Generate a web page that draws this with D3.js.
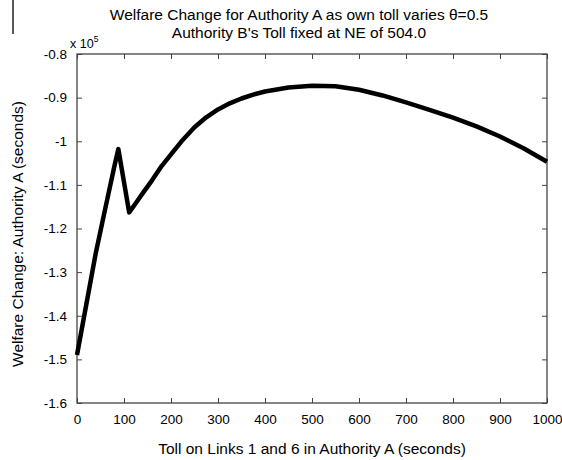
<!DOCTYPE html>
<html>
<head>
<meta charset="utf-8">
<style>
  body { margin: 0; background: #fff; }
  text { font-family: Arial, "Liberation Sans", sans-serif; fill: #000; }
</style>
</head>
<body>
<svg width="562" height="460" id="chart"></svg>
<script src="https://d3js.org/d3.v7.min.js"></script>
<script>

// toll on links 1 and 6 (seconds)
const tolls = [0, 20, 40, 60, 80, 88, 111, 125, 140, 160, 180, 200, 225, 250, 275, 300, 325, 350, 375, 400, 450, 500, 550, 600, 650, 700, 750, 800, 850, 900, 950, 1000]
// welfare change for authority A (x 10^5 seconds)
const welfare = [-1.49, -1.373, -1.256, -1.155, -1.055, -1.018, -1.163, -1.142, -1.119, -1.089, -1.057, -1.03, -0.997, -0.968, -0.945, -0.927, -0.913, -0.902, -0.893, -0.886, -0.877, -0.873, -0.874, -0.882, -0.895, -0.911, -0.928, -0.946, -0.966, -0.989, -1.016, -1.047]

const xTicks = [0, 100, 200, 300, 400, 500, 600, 700, 800, 900, 1000]
const yTicks = [-0.8, -0.9, -1, -1.1, -1.2, -1.3, -1.4, -1.5, -1.6]

const titleLines = ['Welfare Change for Authority A as own toll varies \u03b8=0.5', "Authority B's Toll fixed at NE of 504.0"]

const mLeft = 77, mRight = 547, mTop = 54, mBottom = 403
const svg = d3.select('#chart')

const x = d3.scaleLinear().domain([0, 1000]).range([mLeft, mRight])
const y = d3.scaleLinear().domain([-1.6, -0.8]).range([mBottom, mTop])

const frame = '#444'

// ticks on all four sides, pointing in
function styleAxis(g) {
  g.select('.domain').remove()
  g.selectAll('.tick line').attr('stroke', frame)
  g.selectAll('.tick text').style('font-size', '13.5px').attr('fill', '#000')
}

svg.append('g').attr('transform', `translate(0,${mBottom})`)
  .call(d3.axisBottom(x).tickValues(xTicks).tickSize(-5).tickPadding(11).tickFormat(d => String(d)))
  .call(styleAxis)
svg.append('g').attr('transform', `translate(0,${mTop})`)
  .call(d3.axisTop(x).tickValues(xTicks).tickSize(-5).tickFormat(''))
  .call(styleAxis)
svg.append('g').attr('transform', `translate(${mLeft},0)`)
  .call(d3.axisLeft(y).tickValues(yTicks).tickSize(-5).tickPadding(10).tickFormat(d => String(d)))
  .call(styleAxis)
svg.append('g').attr('transform', `translate(${mRight},0)`)
  .call(d3.axisRight(y).tickValues(yTicks).tickSize(-5).tickFormat(''))
  .call(styleAxis)

svg.append('rect')
  .attr('x', mLeft).attr('y', mTop)
  .attr('width', mRight - mLeft).attr('height', mBottom - mTop)
  .attr('fill', 'none').attr('stroke', frame).attr('stroke-width', 1.3)

// curve
const line = d3.line().x((d, i) => x(tolls[i])).y(d => y(d))
svg.append('path')
  .datum(welfare)
  .attr('d', line)
  .attr('fill', 'none')
  .attr('stroke', '#000')
  .attr('stroke-width', 4.5)
  .attr('stroke-linejoin', 'round')

// exponent label
const ex = svg.append('text').attr('x', 70).attr('y', 48).style('font-size', '12.5px')
ex.append('tspan').text('x 10')
ex.append('tspan').attr('dy', -6).style('font-size', '8.5px').text('5')

// titles
svg.selectAll('.title')
  .data(titleLines)
  .enter()
  .append('text')
    .attr('class', 'title')
    .attr('x', 299)
    .attr('y', (d, i) => 20 + i * 18)
    .attr('text-anchor', 'middle')
    .style('font-size', '15.5px')
    .text(d => d)

svg.append('text')
  .attr('x', (mLeft + mRight) / 2).attr('y', 454)
  .attr('text-anchor', 'middle')
  .style('font-size', '15.5px')
  .text('Toll on Links 1 and 6 in Authority A (seconds)')

svg.append('text')
  .attr('transform', 'translate(23,234) rotate(-90)')
  .attr('text-anchor', 'middle')
  .style('font-size', '15.5px')
  .text('Welfare Change: Authority A (seconds)')

// scan edge on the left of the original
svg.append('line')
  .attr('x1', 13).attr('x2', 13).attr('y1', 0).attr('y2', 34)
  .attr('stroke', '#222').attr('stroke-width', 1.5)

</script>
</body>
</html>
